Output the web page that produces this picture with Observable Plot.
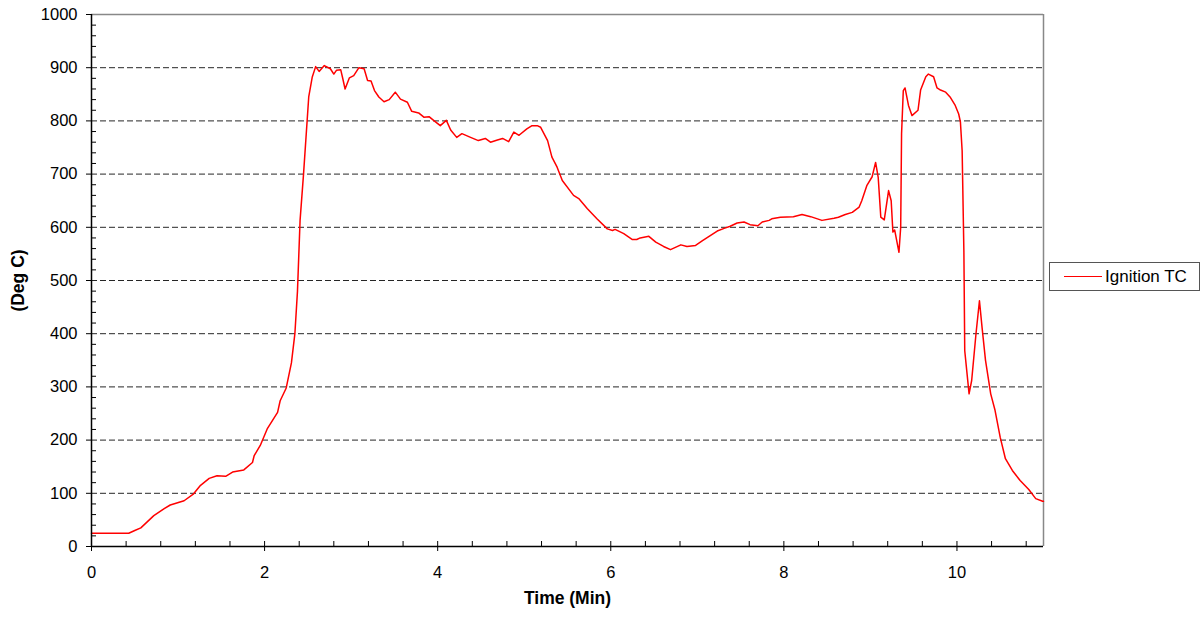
<!DOCTYPE html>
<html><head><meta charset="utf-8">
<script src="https://cdn.jsdelivr.net/npm/d3@7"></script>
<script src="https://cdn.jsdelivr.net/npm/@observablehq/plot@0.6"></script>
<style>
body{margin:0;background:#fff;font-family:"Liberation Sans",Arial,sans-serif;}
#wrap{position:relative;width:1203px;height:617px;}
#legend{position:absolute;left:1049px;top:262px;width:151px;height:29px;border:1px solid #555;box-sizing:border-box;background:#fff;font-size:17px;}
#legend .sw{position:absolute;left:14px;top:13px;width:38px;height:0;border-top:1.5px solid #ff0000;}
#legend .lb{position:absolute;left:55px;top:4px;white-space:nowrap;}
</style></head>
<body><div id="wrap"></div>
<script>
const seriesName = "Ignition TC";
const timeMin = [0,0.43,0.5,0.57,0.72,0.84,0.91,1.07,1.18,1.26,1.36,1.45,1.55,1.63,1.76,1.86,1.88,1.95,2.03,2.15,2.18,2.25,2.31,2.35,2.38,2.41,2.45,2.51,2.55,2.59,2.63,2.69,2.76,2.80,2.83,2.88,2.90,2.93,2.98,3.03,3.09,3.15,3.19,3.23,3.27,3.32,3.38,3.44,3.51,3.57,3.65,3.70,3.78,3.84,3.90,3.96,4.03,4.10,4.15,4.22,4.28,4.38,4.47,4.55,4.61,4.69,4.75,4.82,4.88,4.94,5.03,5.09,5.15,5.19,5.27,5.32,5.38,5.44,5.57,5.63,5.73,5.84,5.96,6.02,6.05,6.15,6.25,6.30,6.34,6.44,6.52,6.61,6.69,6.81,6.88,6.98,7.06,7.23,7.31,7.38,7.46,7.54,7.61,7.70,7.75,7.83,7.86,7.96,8.11,8.21,8.31,8.44,8.58,8.63,8.71,8.79,8.87,8.90,8.96,9.02,9.06,9.09,9.12,9.16,9.21,9.24,9.26,9.28,9.33,9.35,9.36,9.38,9.40,9.44,9.48,9.55,9.58,9.64,9.67,9.73,9.77,9.81,9.87,9.92,9.98,10.02,10.04,10.06,10.08,10.09,10.14,10.17,10.22,10.26,10.29,10.33,10.39,10.44,10.50,10.56,10.64,10.73,10.83,10.91,10.99,11.0];
const tempC = [25,25,30,35,58,71,78,86,99,115,128,133,132,140,144,158,171,190,221,252,274,298,345,400,480,613,700,845,882,902,893,904,898,888,895,896,882,860,881,885,900,898,876,875,857,845,836,840,854,841,835,818,815,807,808,800,791,801,783,769,776,769,763,767,760,764,767,761,779,773,785,791,791,788,763,732,713,688,660,654,635,616,597,594,596,588,577,577,580,583,572,564,558,567,564,566,575,593,598,602,608,610,605,603,610,613,616,619,620,624,620,613,617,619,624,628,638,650,679,695,722,694,619,614,669,650,591,595,553,600,776,857,862,829,810,820,858,883,888,883,862,858,854,845,829,813,798,744,556,368,287,312,400,462,412,350,287,256,205,165,143,124,107,90,85,85];
const yMajor = [0,100,200,300,400,500,600,700,800,900,1000];
const yGrid = [100,200,300,400,500,600,700,800,900];
const yMinor = d3.range(0,1001,20).filter(v => v % 100 !== 0);
const xMajor = [0,2,4,6,8,10];
const xMinor = d3.range(0,11.001,0.4).map(v=>+v.toFixed(1)).filter(v => Math.abs(v/2 - Math.round(v/2)) > 1e-6);

const data = timeMin.map((t,i)=>({t, v: tempC[i]}));

const chart = Plot.plot({
  width: 1203, height: 617,
  marginLeft: 91, marginRight: 160, marginTop: 14, marginBottom: 71,
  style: {fontFamily: "'Liberation Sans', Arial, sans-serif", fontSize: "16.5px", color: "#000", background: "#fff"},
  x: {domain: [0, 11]},
  y: {domain: [0, 1000]},
  marks: [
    Plot.ruleY(yGrid, {stroke: "#000", strokeWidth: 1, strokeDasharray: "6,3", strokeOpacity: 0.85}),
    Plot.ruleY([1000], {stroke: "#888", strokeWidth: 1.5}),
    Plot.ruleX([11], {stroke: "#888", strokeWidth: 1.5}),
    Plot.line(data, {x: "t", y: "v", stroke: "#ff0000", strokeWidth: 1.5}),
    Plot.ruleX([0], {stroke: "#000", strokeWidth: 1.5}),
    Plot.ruleY([0], {stroke: "#000", strokeWidth: 1.5}),
    Plot.axisY({ticks: yMajor, tickSize: 5, tickPadding: 9, label: null, tickFormat: d => String(d), fontSize: 16.5}),
    Plot.axisY({ticks: yMinor, tickSize: 5, text: null, label: null, dx: 5}),
    Plot.axisX({ticks: xMajor, tickSize: 5, tickPadding: 15, label: null, tickFormat: d => String(d), fontSize: 16.5}),
    Plot.axisX({ticks: xMajor, tickSize: 5, text: null, label: null, dy: -5}),
    Plot.axisX({ticks: xMinor, tickSize: 5, text: null, label: null, dy: -5}),
    Plot.text(["Time (Min)"], {frameAnchor: "bottom", textAnchor: "middle", dy: 57, fontWeight: "bold", fontSize: 17.5}),
    Plot.text(["(Deg C)"], {frameAnchor: "left", textAnchor: "middle", dx: -73, rotate: -90, fontWeight: "bold", fontSize: 17.5})
  ]
});
const wrap = document.getElementById("wrap");
wrap.appendChild(chart);
const lg = document.createElement("div");
lg.id = "legend";
lg.innerHTML = `<div class="sw"></div><div class="lb">${seriesName}</div>`;
wrap.appendChild(lg);
</script></body></html>
